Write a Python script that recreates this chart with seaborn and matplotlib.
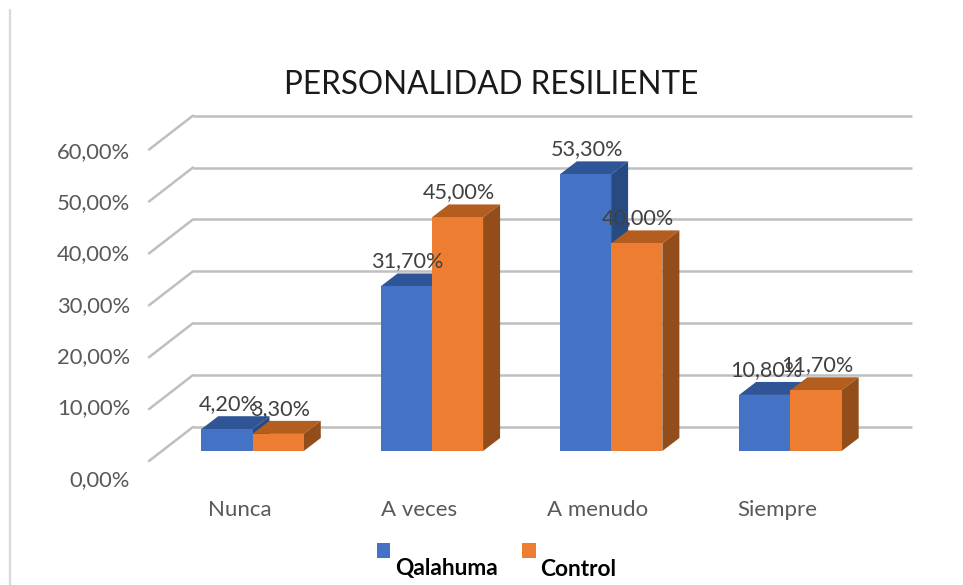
#!/usr/bin/env python3
import pandas as pd
import matplotlib
matplotlib.use("Agg")
import matplotlib.pyplot as plt
from matplotlib.lines import Line2D
from matplotlib.patches import Patch, Polygon
from matplotlib.transforms import ScaledTranslation
import seaborn as sns

# --- DATA ---
categorias = ["Nunca", "A veces", "A menudo", "Siempre"]
qalahuma = [4.2, 31.7, 53.3, 10.8]
control = [3.3, 45.0, 40.0, 11.7]
y_ticks = [0, 10, 20, 30, 40, 50, 60]
titulo = "PERSONALIDAD RESILIENTE"

# --- LAYOUT (pixels of the 963x585 picture) ---
W, H = 963, 585
PX_X = 179.3   # pixels per category
PX_Y = 5.19    # pixels per percent
X0, Y0 = 252.5, 451  # first category centre, bar base

COLORS = {"Qalahuma": "#4472C4", "Control": "#ED7D31"}
TOPS = {"Qalahuma": "#2F5597", "Control": "#B35D1F"}
SIDES = {"Qalahuma": "#284A83", "Control": "#934D1A"}
GRID = "#BFBFBF"
TEXT = "#595959"
LABEL = "#404040"
FONT = ["Lato", "DejaVu Sans"]


def fmt(v):
    return f"{v:.2f}%".replace(".", ",")


def main():
    sns.set_theme(style="white")
    plt.rcParams["font.family"] = FONT

    df = pd.DataFrame({
        "categoria": categorias * 2,
        "valor": qalahuma + control,
        "grupo": ["Qalahuma"] * 4 + ["Control"] * 4,
    })

    fig = plt.figure(figsize=(W / 100, H / 100), dpi=100)
    ax = fig.add_axes([0, 0, 1, 1])
    sns.barplot(data=df, x="categoria", y="valor", hue="grupo", palette=COLORS,
                width=0.572, gap=0, saturation=1, legend=False, ax=ax)
    ax.set_xlim((0 - X0) / PX_X, (W - X0) / PX_X)
    ax.set_ylim((Y0 - H) / PX_Y, Y0 / PX_Y)
    ax.axis("off")

    # walls: depth offsets in data units
    back_dy = 24 / PX_Y
    wall_left = (193 - X0) / PX_X
    wall_right = (912 - X0) / PX_X
    front_left = (149 - X0) / PX_X
    front_dy = -10 / PX_Y
    for v in y_ticks:
        ax.plot([wall_left, wall_right], [v + back_dy] * 2, color=GRID, lw=1.8,
                zorder=0.5, solid_capstyle="butt")
        ax.plot([front_left, wall_left], [v + front_dy, v + back_dy], color=GRID,
                lw=1.8, zorder=0.5)

    # fake 3D faces on every seaborn bar
    dx, dy = 17 / PX_X, 13 / PX_Y
    for i, (grupo, cont) in enumerate(zip(["Qalahuma", "Control"], ax.containers)):
        for bar, v in zip(cont, [qalahuma, control][i]):
            x0, x1 = bar.get_x(), bar.get_x() + bar.get_width()
            bar.set_zorder(2.1 + i)
            bar.set_edgecolor("none")
            ax.add_patch(Polygon([(x0, v), (x1, v), (x1 + dx, v + dy), (x0 + dx, v + dy)],
                                 color=TOPS[grupo], lw=0, zorder=2 + i))
            ax.add_patch(Polygon([(x1, 0), (x1 + dx, dy), (x1 + dx, v + dy), (x1, v)],
                                 color=SIDES[grupo], lw=0, zorder=2 + i))
            ax.text((x0 + x1) / 2 + 1.5 / PX_X, v + dy + 12 / PX_Y, fmt(v), ha="center",
                    va="center", fontsize=15.6, color=LABEL, zorder=6)

    ax.text(491 / W, 1 - 85 / H, titulo, transform=ax.transAxes, ha="center", va="center",
            fontsize=22.7, color="#1A1A1A")

    # axis labels sit on their own scale, apart from the drawn grid
    lab = fig.add_axes([148 / W, 1 - 457.2 / H, (913 - 148) / W, (457.2 - 150) / H])
    lab.patch.set_visible(False)
    lab.set_xlim((148 - 240) / 179.0, (913 - 240) / 179.0)
    lab.set_ylim(0, 60)
    lab.set_xticks(range(len(categorias)), categorias)
    lab.set_yticks(y_ticks, [fmt(v) for v in y_ticks])
    lab.tick_params(axis="y", length=0, pad=13, labelsize=15.8, labelcolor=TEXT)
    lab.tick_params(axis="x", length=0, pad=31, labelsize=16, labelcolor=TEXT)
    sns.despine(ax=lab, left=True, bottom=True)
    # the 0,00% label hangs lower than the others in the original
    zero = lab.get_yticklabels()[0]
    zero.set_transform(zero.get_transform() + ScaledTranslation(0, -21 / 100, fig.dpi_scale_trans))

    handles = [Patch(color=COLORS[k], lw=0) for k in COLORS]
    leg = ax.legend(handles, list(COLORS), ncols=2, frameon=False, loc="upper left",
                    bbox_to_anchor=(356 / W, 1 - 521 / H), prop={"family": FONT, "weight": "bold", "size": 16.4},
                    handlelength=0.6, handleheight=0.6, handletextpad=0.2, columnspacing=1.09)
    for t in leg.get_texts():
        t.set_color("black")
        t.set_position((0, -17))

    # chart border, left side
    fig.add_artist(Line2D([10 / W, 10 / W], [0, 1 - 10 / H], color="#D9D9D9", lw=1.6))

    fig.savefig("out.png", dpi=100)


if __name__ == "__main__":
    main()
